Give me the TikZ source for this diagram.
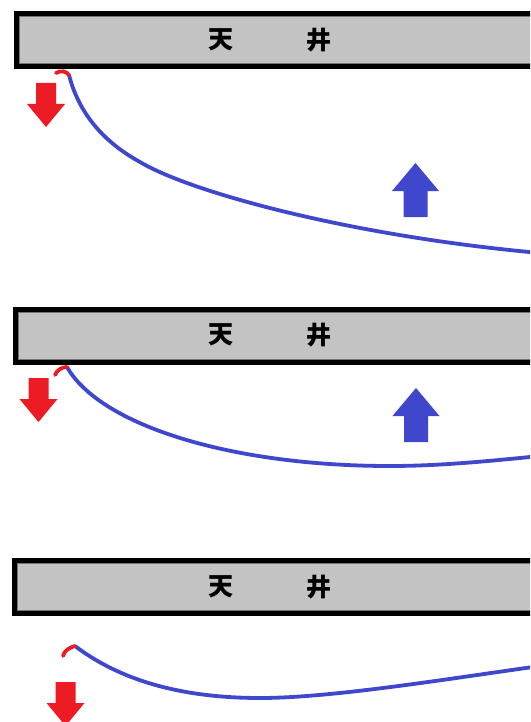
\documentclass[tikz,border=0pt]{standalone}
\usepackage{fontspec}
\newfontfamily\cjk{Noto Sans CJK JP}
\definecolor{redc}{HTML}{ED1C24}
\definecolor{bluec}{HTML}{3F48CC}
\definecolor{barfill}{HTML}{C3C3C3}
\tikzset{
  barbox/.style={draw=black, line width=5pt, fill=barfill},
  barinner/.style={draw=black!55, line width=0.8pt},
  label/.style={font=\cjk\bfseries\fontsize{25}{25}\selectfont, inner sep=0pt, text=black},
  curve/.style={draw=bluec, line width=3.8pt, line cap=round},
  hookline/.style={draw=redc, line width=3.8pt, line cap=round},
  downarr/.pic={\fill[redc] (-10,0) -- (10,0) -- (10,21) -- (19,21) -- (0,44) -- (-19,21) -- (-10,21) -- cycle;},
  uparr/.pic={\fill[bluec] (0,0) -- (23.5,28) -- (12,28) -- (12,54) -- (-12,54) -- (-12,28) -- (-23.5,28) -- cycle;}
}
\begin{document}
\begin{tikzpicture}[x=1pt,y=-1pt]
\clip (0,0) rectangle (530,722);
\fill[white] (0,0) rectangle (530,722);

% ---- panel 1 ----
\draw[barbox] (16.5,13.5) rectangle (560,66.5);
\draw[barinner] (19.5,16.5) rectangle (560,63.5);
\node[label] (t1a) at (221,40) {天};
\node[label] (t1b) at (319,40) {井};
\draw[curve] (69,75) .. controls (78,110) and (100,140) .. (140,162)
  .. controls (190,192) and (350,236) .. (540,253);
\draw[hookline] (56,73) .. controls (61,70) and (66,71) .. (69,75);
\pic at (46,83) {downarr};
\pic at (415.5,163) {uparr};

% ---- panel 2 ----
\draw[barbox] (15.5,309.5) rectangle (560,362.5);
\draw[barinner] (18.5,312.5) rectangle (560,359.5);
\node[label] (t2a) at (221,335) {天};
\node[label] (t2b) at (319,335) {井};
\draw[curve] (67,367) .. controls (100,425) and (230,466) .. (390,466)
  .. controls (440,466) and (490,461) .. (540,456);
\draw[hookline] (55,375) .. controls (57,370) and (62,367) .. (67,367);
\pic at (38.5,378) {downarr};
\pic at (416,388) {uparr};

% ---- panel 3 ----
\draw[barbox] (14.5,560.5) rectangle (560,613.5);
\draw[barinner] (17.5,563.5) rectangle (560,610.5);
\node[label] (t3a) at (221,587) {天};
\node[label] (t3b) at (319,587) {井};
\draw[curve] (75,646) .. controls (125,684) and (190,698) .. (260,698)
  .. controls (330,698) and (440,680) .. (540,666);
\draw[hookline] (63,656) .. controls (64,651) and (70,647) .. (75,646);
\pic at (65.5,682) {downarr};
\end{tikzpicture}
\end{document}
